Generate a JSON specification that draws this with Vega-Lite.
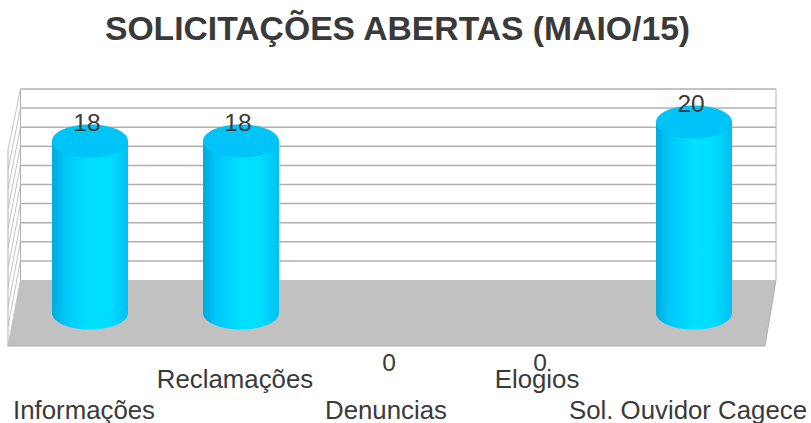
{
 "$schema":"https://vega.github.io/schema/vega-lite/v6.json",
 "width":811,"height":266,
 "autosize":{"type":"none"},
 "padding":{"left":0,"top":80,"right":0,"bottom":77},
 "background":"white",
 "view":{"stroke":null},
 "title":{"text":"SOLICITAÇÕES ABERTAS (MAIO/15)","font":"Liberation Sans","fontSize":33.7,"fontWeight":"bold","color":"#3a3a3a","anchor":"middle","dx":-8,"offset":-1,"baseline":"bottom"},
 "datasets":{
  "solicitacoes":[
   {"categoria":"Informações","valor":18},
   {"categoria":"Reclamações","valor":18},
   {"categoria":"Denuncias","valor":0},
   {"categoria":"Elogios","valor":0},
   {"categoria":"Sol. Ouvidor Cagece","valor":20}
  ],
  "grade":[
   {"v":0,"back":3.455,"front":-3.455},
   {"v":2,"back":5.455,"front":-1.4},
   {"v":4,"back":7.455,"front":0.65},
   {"v":6,"back":9.455,"front":2.7},
   {"v":8,"back":11.455,"front":4.75},
   {"v":10,"back":13.455,"front":6.8},
   {"v":12,"back":15.455,"front":8.85},
   {"v":14,"back":17.455,"front":10.9},
   {"v":16,"back":19.455,"front":12.95},
   {"v":18,"back":21.455,"front":15.0},
   {"v":20,"back":23.455,"front":17.07}
  ],
  "piso":[
   {"h":-3.455,"esq":-0.0165,"dir":0.9854},
   {"h":3.455,"esq":0,"dir":1}
  ]
 },
 "resolve":{"scale":{"x":"independent"}},
 "layer":[
  {
   "layer":[
    {"data":{"name":"piso"},"mark":{"type":"area","orient":"horizontal","fill":"#c1c1c1","stroke":null},
     "encoding":{"y":{"field":"h","type":"quantitative","scale":{"domain":[-3.455,24.4],"nice":false,"zero":false},"axis":null},
      "x":{"field":"esq","type":"quantitative","scale":{"domain":[-0.0271,1.0463],"nice":false,"zero":false},"axis":null},
      "x2":{"field":"dir"}}},
    {"data":{"name":"grade"},"mark":{"type":"rule","stroke":"#c4c4c4","strokeWidth":1},
     "encoding":{"x":{"datum":0,"type":"quantitative"},"x2":{"datum":-0.0165},"y":{"field":"back","type":"quantitative"},"y2":{"field":"front"}}},
    {"data":{"name":"grade"},"transform":[{"filter":"datum.v>0"}],"mark":{"type":"rule","stroke":"#b0b0b0","strokeWidth":1.5},
     "encoding":{"x":{"datum":0,"type":"quantitative"},"x2":{"datum":1},"y":{"field":"back","type":"quantitative"}}},
    {"data":{"name":"piso"},"mark":{"type":"rule","stroke":"#b0b0b0","strokeWidth":1.2},
     "transform":[{"filter":"datum.h<0"}],
     "encoding":{"x":{"field":"esq","type":"quantitative"},"x2":{"field":"dir"},"y":{"field":"h","type":"quantitative"}}},
    {"data":{"name":"grade"},"transform":[{"filter":"datum.v==20"}],"mark":{"type":"rule","stroke":"#b0b0b0","strokeWidth":1},
     "encoding":{"x":{"datum":0,"type":"quantitative"},"y":{"field":"back","type":"quantitative"},"y2":{"datum":3.455}}},
    {"data":{"name":"grade"},"transform":[{"filter":"datum.v==20"}],"mark":{"type":"rule","stroke":"#b0b0b0","strokeWidth":1},
     "encoding":{"x":{"datum":1,"type":"quantitative"},"y":{"field":"back","type":"quantitative"},"y2":{"datum":3.455}}},
    {"data":{"name":"grade"},"transform":[{"filter":"datum.v==20"}],"mark":{"type":"rule","stroke":"#b0b0b0","strokeWidth":1},
     "encoding":{"x":{"datum":-0.0165,"type":"quantitative"},"y":{"field":"front","type":"quantitative"},"y2":{"datum":-3.455}}},
    {"data":{"name":"piso"},"mark":{"type":"line","stroke":"#b0b0b0","strokeWidth":1},
     "encoding":{"x":{"field":"dir","type":"quantitative"},"y":{"field":"h","type":"quantitative"}}}
   ]
  },
  {
   "data":{"name":"solicitacoes"},
   "encoding":{"x":{"field":"categoria","type":"nominal","sort":null,
     "scale":{"type":"band","domain":["Informações","Reclamações","Denuncias","Elogios","Sol. Ouvidor Cagece"],"range":[52,732],"paddingInner":0.4967,"paddingOuter":0},
     "axis":{"orient":"bottom","title":null,"domain":false,"ticks":false,"labelAngle":0,"labelFont":"Liberation Sans","labelFontSize":25.8,"labelColor":"#3a3a3a","labelOverlap":false,"labelLimit":0,"labelFlush":false,"labelBaseline":"middle","labelOffset":-6,
       "labelPadding":{"condition":{"test":"datum.label=='Reclamações'||datum.label=='Elogios'","value":33},"value":64}}}},
   "layer":[
    {"transform":[{"filter":"datum.valor>0"}],
     "mark":{"type":"bar","fill":{"gradient":"linear","x1":0,"x2":1,"y1":0,"y2":0,"stops":[{"offset":0,"color":"#00aadc"},{"offset":0.18,"color":"#00c8fa"},{"offset":0.5,"color":"#00e0ff"},{"offset":0.75,"color":"#00deff"},{"offset":1,"color":"#00c0f2"}]}},
     "encoding":{"y":{"field":"valor","type":"quantitative","axis":null}}},
    {"transform":[{"filter":"datum.valor>0"}],
     "mark":{"type":"point","filled":true,"size":5776,"opacity":1,"shape":"M-1,0 A1,0.434 0 1 1 1,0 A1,0.434 0 1 1 -1,0 Z","fill":{"gradient":"linear","x1":0,"x2":1,"y1":0,"y2":0,"stops":[{"offset":0,"color":"#00aadc"},{"offset":0.18,"color":"#00c8fa"},{"offset":0.5,"color":"#00e0ff"},{"offset":0.75,"color":"#00deff"},{"offset":1,"color":"#00c0f2"}]}},
     "encoding":{"y":{"datum":0,"type":"quantitative"}}},
    {"transform":[{"filter":"datum.valor>0"}],
     "mark":{"type":"point","filled":true,"size":5776,"opacity":1,"shape":"M-1,0 A1,0.434 0 1 1 1,0 A1,0.434 0 1 1 -1,0 Z","fill":"#00c3f7"},
     "encoding":{"y":{"field":"valor","type":"quantitative"}}},
    {"transform":[{"filter":"datum.valor>0"}],
     "mark":{"type":"text","font":"Liberation Sans","fontSize":24.5,"color":"#3a3a3a","baseline":"middle","dx":-3,"dy":-17},
     "encoding":{"y":{"field":"valor","type":"quantitative"},"text":{"field":"valor","type":"quantitative"}}},
    {"transform":[{"filter":"datum.valor==0"}],
     "mark":{"type":"text","font":"Liberation Sans","fontSize":24.5,"color":"#3a3a3a","baseline":"middle","dx":-3,"dy":51},
     "encoding":{"y":{"field":"valor","type":"quantitative"},"text":{"field":"valor","type":"quantitative"}}}
   ]
  }
 ]
}
